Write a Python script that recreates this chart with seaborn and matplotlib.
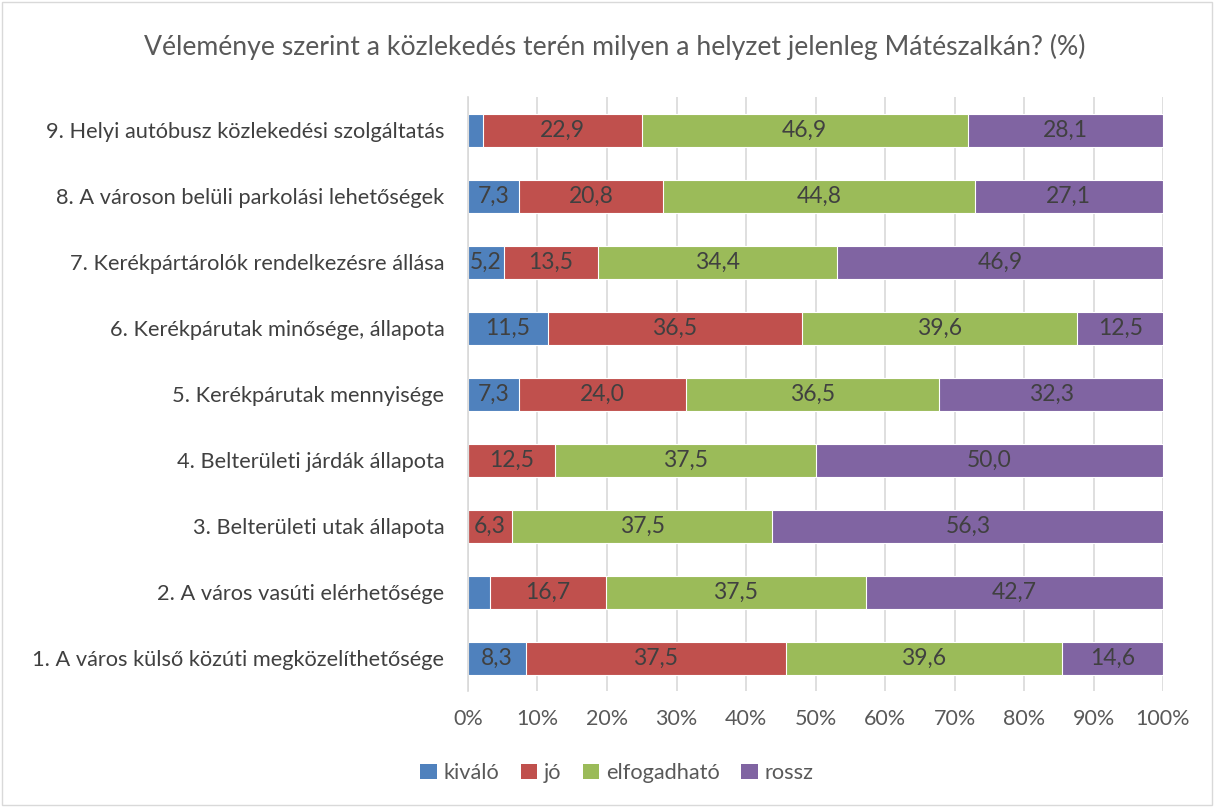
import matplotlib
matplotlib.use("Agg")
import matplotlib.pyplot as plt
import seaborn as sns
import numpy as np
import pandas as pd
from matplotlib.patches import Patch, Rectangle

categories = [
    "9. Helyi autóbusz közlekedési szolgáltatás",
    "8. A városon belüli parkolási lehetőségek",
    "7. Kerékpártárolók rendelkezésre állása",
    "6. Kerékpárutak minősége, állapota",
    "5. Kerékpárutak mennyisége",
    "4. Belterületi járdák állapota",
    "3. Belterületi utak állapota",
    "2. A város vasúti elérhetősége",
    "1. A város külső közúti megközelíthetősége",
]
kivalo = [2.1, 7.3, 5.2, 11.5, 7.3, 0.0, 0.0, 3.1, 8.3]
jo = [22.9, 20.8, 13.5, 36.5, 24.0, 12.5, 6.3, 16.7, 37.5]
elfogadhato = [46.9, 44.8, 34.4, 39.6, 36.5, 37.5, 37.5, 37.5, 39.6]
rossz = [28.1, 27.1, 46.9, 12.5, 32.3, 50.0, 56.3, 42.7, 14.6]
series_names = ["kiváló", "jó", "elfogadható", "rossz"]
x_ticks = [0, 10, 20, 30, 40, 50, 60, 70, 80, 90, 100]
title = "Véleménye szerint a közlekedés terén milyen a helyzet jelenleg Mátészalkán? (%)"

colors = ["#4F81BD", "#C0504D", "#9BBB59", "#8064A2"]

sns.set_theme(style="white")
plt.rcParams['font.family'] = ['Lato', 'DejaVu Sans']

fig = plt.figure(figsize=(12.14, 8.07), dpi=100)
ax = fig.add_axes([0.3855, 0.1437, 0.5725, 0.7361])

values = np.array([kivalo, jo, elfogadhato, rossz])
cum = np.cumsum(values, axis=0)
starts = cum - values

# draw cumulative bars from largest to smallest
for i in range(3, -1, -1):
    df = pd.DataFrame({"cat": categories, "val": cum[i]})
    sns.barplot(data=df, x="val", y="cat", color=colors[i], orient="h",
                width=0.5, saturation=1, ax=ax, edgecolor="white",
                linewidth=0.8, zorder=2)

for i in range(4):
    for j, cat in enumerate(categories):
        v = values[i][j]
        if v >= 5:
            ax.text(starts[i][j] + v / 2, j, f"{v:.1f}".replace(".", ","),
                    ha="center", va="center", fontsize=16.5, color="#404040",
                    zorder=5)

ax.set_xlim(0, 100)
ax.set_ylim(8.5, -0.5)
ax.set_xticks(x_ticks)
ax.set_xticklabels([f"{t}%" for t in x_ticks], fontsize=15.5, color="#595959")
ax.tick_params(axis="y", labelsize=15.7, labelcolor="#404040", length=0, pad=17)
ax.tick_params(axis="x", length=0, pad=13)
ax.set_xlabel("")
ax.set_ylabel("")
ax.grid(axis="x", color="#D9D9D9", linewidth=1.2, zorder=0)
ax.set_axisbelow(True)
for s in ["top", "right", "bottom"]:
    ax.spines[s].set_visible(False)
ax.spines["left"].set_color("#D9D9D9")
ax.spines["left"].set_linewidth(1.2)

handles = [Patch(facecolor=c, edgecolor="none") for c in colors]
fig.legend(handles, series_names, loc="center", bbox_to_anchor=(0.508, 0.042),
           ncol=4, frameon=False, fontsize=15.7, handlelength=0.75,
           handleheight=0.75, handletextpad=0.3, columnspacing=1.0,
           labelcolor="#595959")

fig.text(0.506, 0.942, title, ha="center", va="center", fontsize=19.2,
         color="#595959")

fig.patches.append(Rectangle((0.002, 0.002), 0.996, 0.996, transform=fig.transFigure,
                             fill=False, edgecolor="#D9D9D9", linewidth=1))

fig.savefig("out.png", dpi=100)
